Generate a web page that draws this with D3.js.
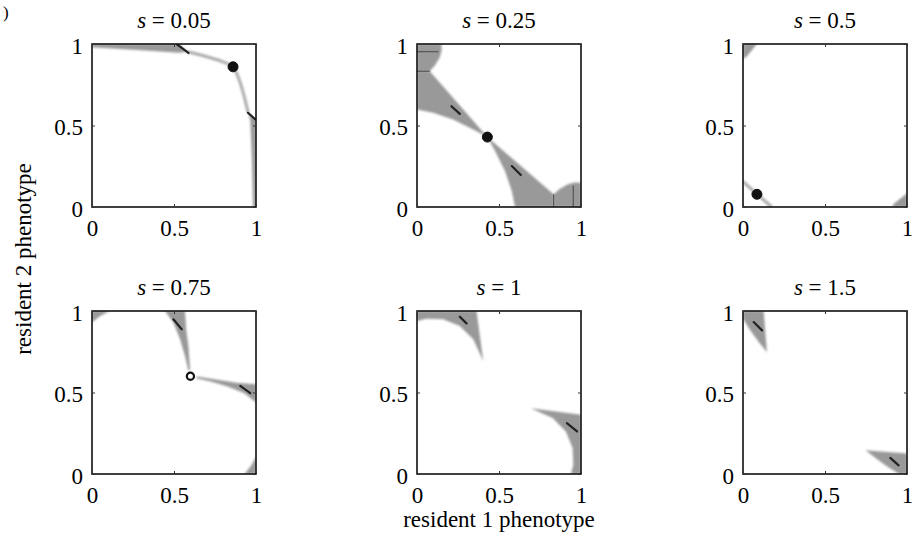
<!DOCTYPE html>
<html>
<head>
<meta charset="utf-8">
<script src="https://cdn.jsdelivr.net/npm/d3@7"></script>
<style>
  body { margin: 0; background: #fff; }
  svg { display: block; }
  text { font-family: "Liberation Serif", "Times New Roman", serif; fill: #000; }
</style>
</head>
<body>
<div id="chart"></div>
<script>
// panel titles (values of s)
var sValues = ["0.05", "0.25", "0.5", "0.75", "1", "1.5"];
var tickValues = [0, 0.5, 1];
var tickLabels = ["0", "0.5", "1"];

// gray regions, one list of polygons per panel, [resident 1, resident 2]
var regions005 = [
  [[0, 1], [0.53, 1], [0.58, 0.952], [0.53, 0.946], [0.3, 0.962], [0, 0.98]],
  [[1, 0], [1, 0.53], [0.952, 0.58], [0.965, 0.53], [0.975, 0.3], [0.982, 0]]
];
var regions025 = [
  [[0, 1], [0.149, 1], [0.15, 0.96], [0.14, 0.92], [0.11, 0.87], [0.078, 0.833], [0, 0.833]],
  [[0, 0.833], [0.078, 0.833], [0.429, 0.429], [0.343, 0.476], [0.22, 0.537], [0.098, 0.578], [0, 0.598]],
  [[0.833, 0], [0.833, 0.078], [0.429, 0.429], [0.476, 0.343], [0.537, 0.22], [0.578, 0.098], [0.598, 0]],
  [[1, 0], [1, 0.149], [0.96, 0.15], [0.92, 0.14], [0.87, 0.11], [0.833, 0.078], [0.833, 0]]
];
var regions05 = [
  [[0, 1], [0.085, 1], [0.06, 0.97], [0.02, 0.92], [0, 0.91]],
  [[1, 0], [1, 0.085], [0.97, 0.06], [0.92, 0.02], [0.91, 0]]
];
var regions075 = [
  [[0, 1], [0.108, 1], [0.05, 0.97], [0, 0.93]],
  [[0.445, 1], [0.567, 1], [0.575, 0.88], [0.588, 0.786], [0.598, 0.64], [0.588, 0.633], [0.567, 0.724], [0.537, 0.827], [0.496, 0.929]],
  [[1, 0.439], [1, 0.551], [0.88, 0.56], [0.786, 0.575], [0.64, 0.598], [0.633, 0.588], [0.724, 0.567], [0.827, 0.537], [0.929, 0.496]],
  [[1, 0], [1, 0.108], [0.97, 0.05], [0.93, 0]]
];
var regions1 = [
  [[0, 1], [0.363, 1], [0.404, 0.694], [0.343, 0.827], [0.261, 0.908], [0.159, 0.949], [0.057, 0.953], [0, 0.939]],
  [[1, 0], [1, 0.363], [0.694, 0.404], [0.827, 0.343], [0.908, 0.261], [0.949, 0.159], [0.953, 0.057], [0.939, 0]]
];
var regions15 = [
  [[0, 1], [0.126, 1], [0.146, 0.747], [0.096, 0.81], [0.045, 0.881], [0, 0.953]],
  [[1, 0], [1, 0.126], [0.747, 0.146], [0.81, 0.096], [0.881, 0.045], [0.953, 0]]
];

// thin light-gray curves
var curves005 = [
  [[0.58, 0.952], [0.69, 0.925], [0.79, 0.894], [0.86, 0.86], [0.894, 0.79], [0.925, 0.69], [0.952, 0.58]]
];
var curves05 = [
  [[0, 0.155], [0.09, 0.075], [0.175, 0]]
];

// dark boundary lines
var edges025 = [
  [[0, 0.953], [0.13, 0.953]], [[0, 0.833], [0.078, 0.833]],
  [[0.953, 0], [0.953, 0.13]], [[0.833, 0], [0.833, 0.078]]
];

// direction arrows (short dark segments)
var arrows005 = [[[0.516, 1], [0.588, 0.945]], [[0.996, 0.537], [0.951, 0.578]]];
var arrows025 = [[[0.21, 0.618], [0.261, 0.571]], [[0.633, 0.196], [0.578, 0.251]]];
var arrows075 = [[[0.496, 0.949], [0.547, 0.888]], [[0.965, 0.496], [0.904, 0.541]]];
var arrows1 = [[[0.261, 0.965], [0.302, 0.924]], [[0.976, 0.261], [0.914, 0.312]]];
var arrows15 = [[[0.065, 0.932], [0.116, 0.881]], [[0.949, 0.053], [0.898, 0.099]]];

// singular points: [x, y, filled]
var points005 = [[0.86, 0.86, true]];
var points025 = [[0.429, 0.429, true]];
var points05 = [[0.085, 0.078, true]];
var points075 = [[0.6, 0.6, false]];

var panels = [
  { s: sValues[0], regions: regions005, curves: curves005, edges: [], arrows: arrows005, points: points005 },
  { s: sValues[1], regions: regions025, curves: [], edges: edges025, arrows: arrows025, points: points025 },
  { s: sValues[2], regions: regions05, curves: curves05, edges: [], arrows: [], points: points05 },
  { s: sValues[3], regions: regions075, curves: [], edges: [], arrows: arrows075, points: points075 },
  { s: sValues[4], regions: regions1, curves: [], edges: [], arrows: arrows1, points: [] },
  { s: sValues[5], regions: regions15, curves: [], edges: [], arrows: arrows15, points: [] }
];

var width = 913, height = 543;
var colX = [92, 417, 743], rowY = [44, 311];
var pw = 164, ph = 163;

var svg = d3.select("#chart").append("svg")
  .attr("width", width)
  .attr("height", height);

var defs = svg.append("defs");
defs.append("filter").attr("id", "soft")
  .append("feGaussianBlur").attr("stdDeviation", 0.8);

panels.forEach(function(p, i) {
  var x0 = colX[i % 3], y0 = rowY[Math.floor(i / 3)];
  var x = d3.scaleLinear().domain([0, 1]).range([x0, x0 + pw]);
  var y = d3.scaleLinear().domain([0, 1]).range([y0 + ph, y0]);

  defs.append("clipPath").attr("id", "clip" + i)
    .append("rect").attr("x", x0).attr("y", y0).attr("width", pw).attr("height", ph);

  var g = svg.append("g");
  var inner = g.append("g").attr("clip-path", "url(#clip" + i + ")");

  var poly = d3.line().x(function(d) { return x(d[0]); }).y(function(d) { return y(d[1]); });
  var smooth = d3.line().curve(d3.curveCatmullRom).x(function(d) { return x(d[0]); }).y(function(d) { return y(d[1]); });

  inner.append("g").attr("filter", "url(#soft)")
    .selectAll("path").data(p.regions).enter().append("path")
    .attr("d", function(d) { return poly(d) + "Z"; })
    .attr("fill", "#999");

  inner.selectAll(".curve").data(p.curves).enter().append("path")
    .attr("class", "curve")
    .attr("d", smooth)
    .attr("fill", "none")
    .attr("stroke", "#aaa")
    .attr("stroke-width", 3)
    .attr("filter", "url(#soft)");

  inner.selectAll(".edge").data(p.edges).enter().append("path")
    .attr("class", "edge")
    .attr("d", poly)
    .attr("stroke", "#555")
    .attr("stroke-width", 1.2);

  inner.selectAll(".arrow").data(p.arrows).enter().append("path")
    .attr("class", "arrow")
    .attr("d", poly)
    .attr("stroke", "#222")
    .attr("stroke-width", 2.2)
    .attr("stroke-linecap", "round");

  // frame
  g.append("rect")
    .attr("x", x0).attr("y", y0).attr("width", pw).attr("height", ph)
    .attr("fill", "none").attr("stroke", "#111").attr("stroke-width", 1.6);

  // axes: labelled bottom/left, bare ticks on top/right
  var fmt = function(d, k) { return tickLabels[k]; };
  var bottom = g.append("g").attr("transform", "translate(0," + (y0 + ph) + ")")
    .call(d3.axisBottom(x).tickValues(tickValues).tickFormat(fmt).tickSizeInner(-3).tickSizeOuter(0).tickPadding(13));
  var left = g.append("g").attr("transform", "translate(" + x0 + ",0)")
    .call(d3.axisLeft(y).tickValues(tickValues).tickFormat(fmt).tickSizeInner(-3).tickSizeOuter(0).tickPadding(9));
  var top = g.append("g").attr("transform", "translate(0," + y0 + ")")
    .call(d3.axisTop(x).tickValues(tickValues).tickFormat("").tickSizeInner(-3).tickSizeOuter(0));
  var right = g.append("g").attr("transform", "translate(" + (x0 + pw) + ",0)")
    .call(d3.axisRight(y).tickValues(tickValues).tickFormat("").tickSizeInner(-3).tickSizeOuter(0));
  [bottom, left, top, right].forEach(function(a) {
    a.select(".domain").remove();
    a.attr("font-family", null).attr("font-size", null);
    a.selectAll("line").attr("stroke", "#333");
    a.selectAll("text").style("font-size", "23px");
  });
  left.selectAll("text").attr("dy", "0.4em");

  // points
  g.selectAll(".pt").data(p.points).enter().append("circle")
    .attr("class", "pt")
    .attr("cx", function(d) { return x(d[0]); })
    .attr("cy", function(d) { return y(d[1]); })
    .attr("r", function(d) { return d[2] ? 5 : 3.6; })
    .attr("fill", function(d) { return d[2] ? "#111" : "#fff"; })
    .attr("stroke", "#111")
    .attr("stroke-width", function(d) { return d[2] ? 1 : 2.2; });

  // title
  var t = g.append("text")
    .attr("x", x0 + pw / 2)
    .attr("y", y0 - 16)
    .attr("text-anchor", "middle")
    .style("font-size", "23px");
  t.append("tspan").attr("font-style", "italic").text("s");
  t.append("tspan").text(" = " + p.s);
});

// shared axis labels
svg.append("text")
  .attr("x", colX[1] + pw / 2)
  .attr("y", 527)
  .attr("text-anchor", "middle")
  .style("font-size", "23px")
  .text("resident 1 phenotype");

svg.append("text")
  .attr("transform", "translate(31,259) rotate(-90)")
  .attr("text-anchor", "middle")
  .style("font-size", "23px")
  .text("resident 2 phenotype");

// sub-figure label remnant at the corner
svg.append("text")
  .attr("x", 3)
  .attr("y", 18)
  .style("font-size", "17px")
  .text(")");
</script>
</body>
</html>
